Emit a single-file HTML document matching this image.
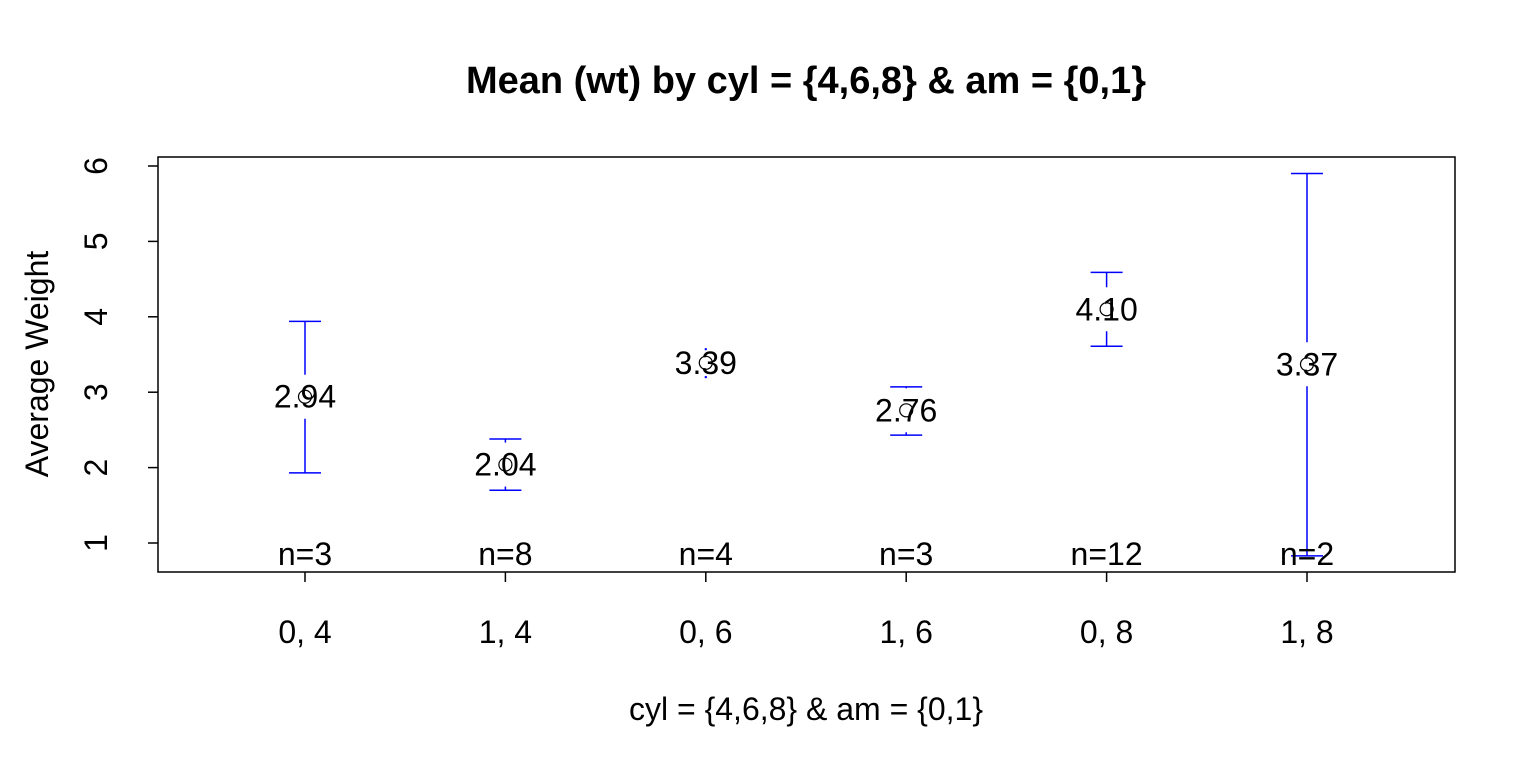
<!DOCTYPE html>
<html><head><meta charset="utf-8"><style>
html,body{margin:0;padding:0;background:#fff;}
svg text{font-family:"Liberation Sans",sans-serif;}
</style></head><body>
<svg id="chart" width="1536" height="768" xmlns="http://www.w3.org/2000/svg">
<text x="806" y="93" font-size="38" font-weight="bold" text-anchor="middle">Mean (wt) by cyl = {4,6,8} &amp; am = {0,1}</text>
<rect x="158" y="157" width="1297" height="415" fill="none" stroke="#000" stroke-width="1.5"/>
<text x="806" y="720" font-size="32" text-anchor="middle">cyl = {4,6,8} &amp; am = {0,1}</text>
<text transform="translate(48,364) rotate(-90)" font-size="32" text-anchor="middle">Average Weight</text>
<g id="g"></g>
</svg>
<script>
const categories=["0, 4","1, 4","0, 6","1, 6","0, 8","1, 8"];
const means=[2.94,2.04,3.39,2.76,4.10,3.37];
const upper=[3.94,2.38,3.57,3.07,4.59,5.90];
const lower=[1.93,1.70,3.20,2.43,3.61,0.83];
const counts=[3,8,4,3,12,2];
const yTicks=[1,2,3,4,5,6];
const NS="http://www.w3.org/2000/svg";
const g=document.getElementById('g');
const xs=i=>305+i*200.4;
const ys=v=>543-(v-1)*75.4;
function mk(t,a){const e=document.createElementNS(NS,t);for(const k in a)e.setAttribute(k,a[k]);g.appendChild(e);return e;}
yTicks.forEach(v=>{
  const l=mk('line',{x1:148,x2:158,y1:ys(v),y2:ys(v),stroke:'#000','stroke-width':1.5});
  
  
  const t=mk('text',{transform:`translate(107,${ys(v)}) rotate(-90)`,'font-size':32,'text-anchor':'middle'});
  t.textContent=v;
  
  
});
categories.forEach((c,i)=>{
  const x=xs(i);
  const tk=mk('line',{x1:x,x2:x,y1:572,y2:582,stroke:'#000','stroke-width':1.5});
  
  
  const tl=mk('text',{x:x,y:643,'font-size':32,'text-anchor':'middle'});
  tl.textContent=c;
  
  
  const ym=ys(means[i]),yu=ys(upper[i]),yl=ys(lower[i]),gap=22;
  if(ym-gap>yu){const s=mk('line',{x1:x,x2:x,y1:yu,y2:ym-gap,stroke:'#00f','stroke-width':1.5});
    
    }
  if(ym+gap<yl){const s=mk('line',{x1:x,x2:x,y1:ym+gap,y2:yl,stroke:'#00f','stroke-width':1.5});
    
    }
  const showCaps=(ym-yu>gap)||(yl-ym>gap);
  [yu,yl].forEach(y=>{
    if(showCaps){const cp=mk('line',{x1:x-16,x2:x+16,y1:y,y2:y,stroke:'#00f','stroke-width':1.5});
      
      }
    else{const d=mk('circle',{cx:x,cy:y,r:1.2,fill:'#00f'});
      
      }
  });
  const pt=mk('circle',{cx:x,cy:ym,r:6.5,fill:'none',stroke:'#000','stroke-width':1.2});
  
  
  const ml=mk('text',{x:x,y:ym+11,'font-size':32,'text-anchor':'middle'});
  ml.textContent=means[i].toFixed(2);
  
  
  const nl=mk('text',{x:x,y:565,'font-size':32,'text-anchor':'middle'});
  nl.textContent='n='+counts[i];
  
  
});
</script>
</body></html>
